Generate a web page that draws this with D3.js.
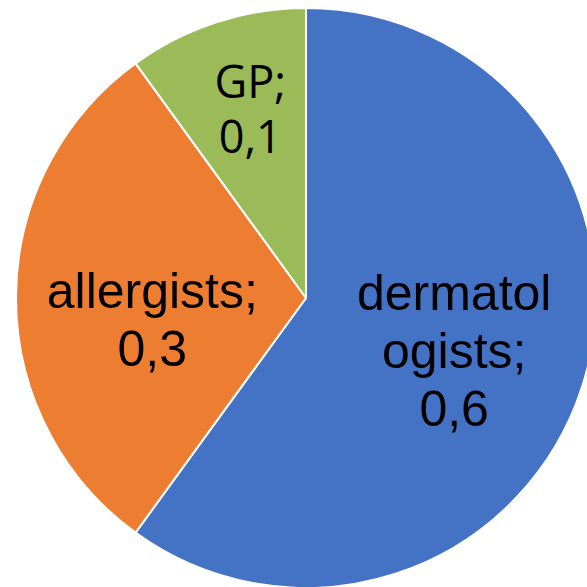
<!DOCTYPE html>
<head>
  <meta charset="utf-8">
  <script src="https://d3js.org/d3.v7.min.js"></script>
  <style>
    body { margin:0; background:#fff; }
    svg { display:block; }
  </style>
</head>
<body>
<script>
  // chart data
  var categories = ["dermatologists", "allergists", "GP"];
  var values = [0.6, 0.3, 0.1];
  var colors = ["#4472C4", "#ED7D31", "#9BBB59"];
  // label text as printed in the chart (line breaks as in the picture)
  var labelLines = [
    ["dermatol", "ogists;", "0,6"],
    ["allergists;", "0,3"],
    ["GP;", "0,1"]
  ];

  var width = 587, height = 587;
  var cx = 306, cy = 298, radius = 290;

  // label layout: radius fraction, font, size, line height, small tweaks
  var labelStyle = [
    {r: 0.53, font: "'Liberation Sans', Arial, sans-serif", size: 50, lh: 58, dx: 2, dy: 5},
    {r: 0.53, font: "'Liberation Sans', Arial, sans-serif", size: 50, lh: 58, dx: 0, dy: 21},
    {r: 0.60, font: "'Open Sans', sans-serif", size: 45, lh: 55, dx: -2, dy: -23}
  ];

  var svg = d3.select("body").append("svg")
    .attr("width", width)
    .attr("height", height);

  var g = svg.append("g")
    .attr("transform", "translate(" + cx + "," + cy + ")");

  var pie = d3.pie().sort(null).value(function(d) { return d; });
  var arcs = pie(values);

  var arc = d3.arc().innerRadius(0).outerRadius(radius);

  g.selectAll("path")
    .data(arcs)
    .enter().append("path")
    .attr("d", arc)
    .attr("fill", function(d, i) { return colors[i]; })
    .attr("stroke", "#fff")
    .attr("stroke-width", 2)
    .attr("stroke-linejoin", "round");

  g.selectAll("text.lbl")
    .data(arcs)
    .enter().append("text")
    .attr("class", "lbl")
    .attr("text-anchor", "middle")
    .attr("fill", "#000")
    .style("font-family", function(d, i) { return labelStyle[i].font; })
    .style("font-size", function(d, i) { return labelStyle[i].size + "px"; })
    .each(function(d, i) {
      var st = labelStyle[i];
      var la = d3.arc().innerRadius(radius * st.r).outerRadius(radius * st.r);
      var c = la.centroid(d);
      var lines = labelLines[i];
      var x = c[0] + st.dx;
      var y0 = c[1] + st.dy - (lines.length - 1) * st.lh / 2 + st.size * 0.35;
      d3.select(this).selectAll("tspan")
        .data(lines)
        .enter().append("tspan")
        .attr("x", x)
        .attr("y", function(t, j) { return y0 + j * st.lh; })
        .text(function(t) { return t; });
    });
</script>
</body>
